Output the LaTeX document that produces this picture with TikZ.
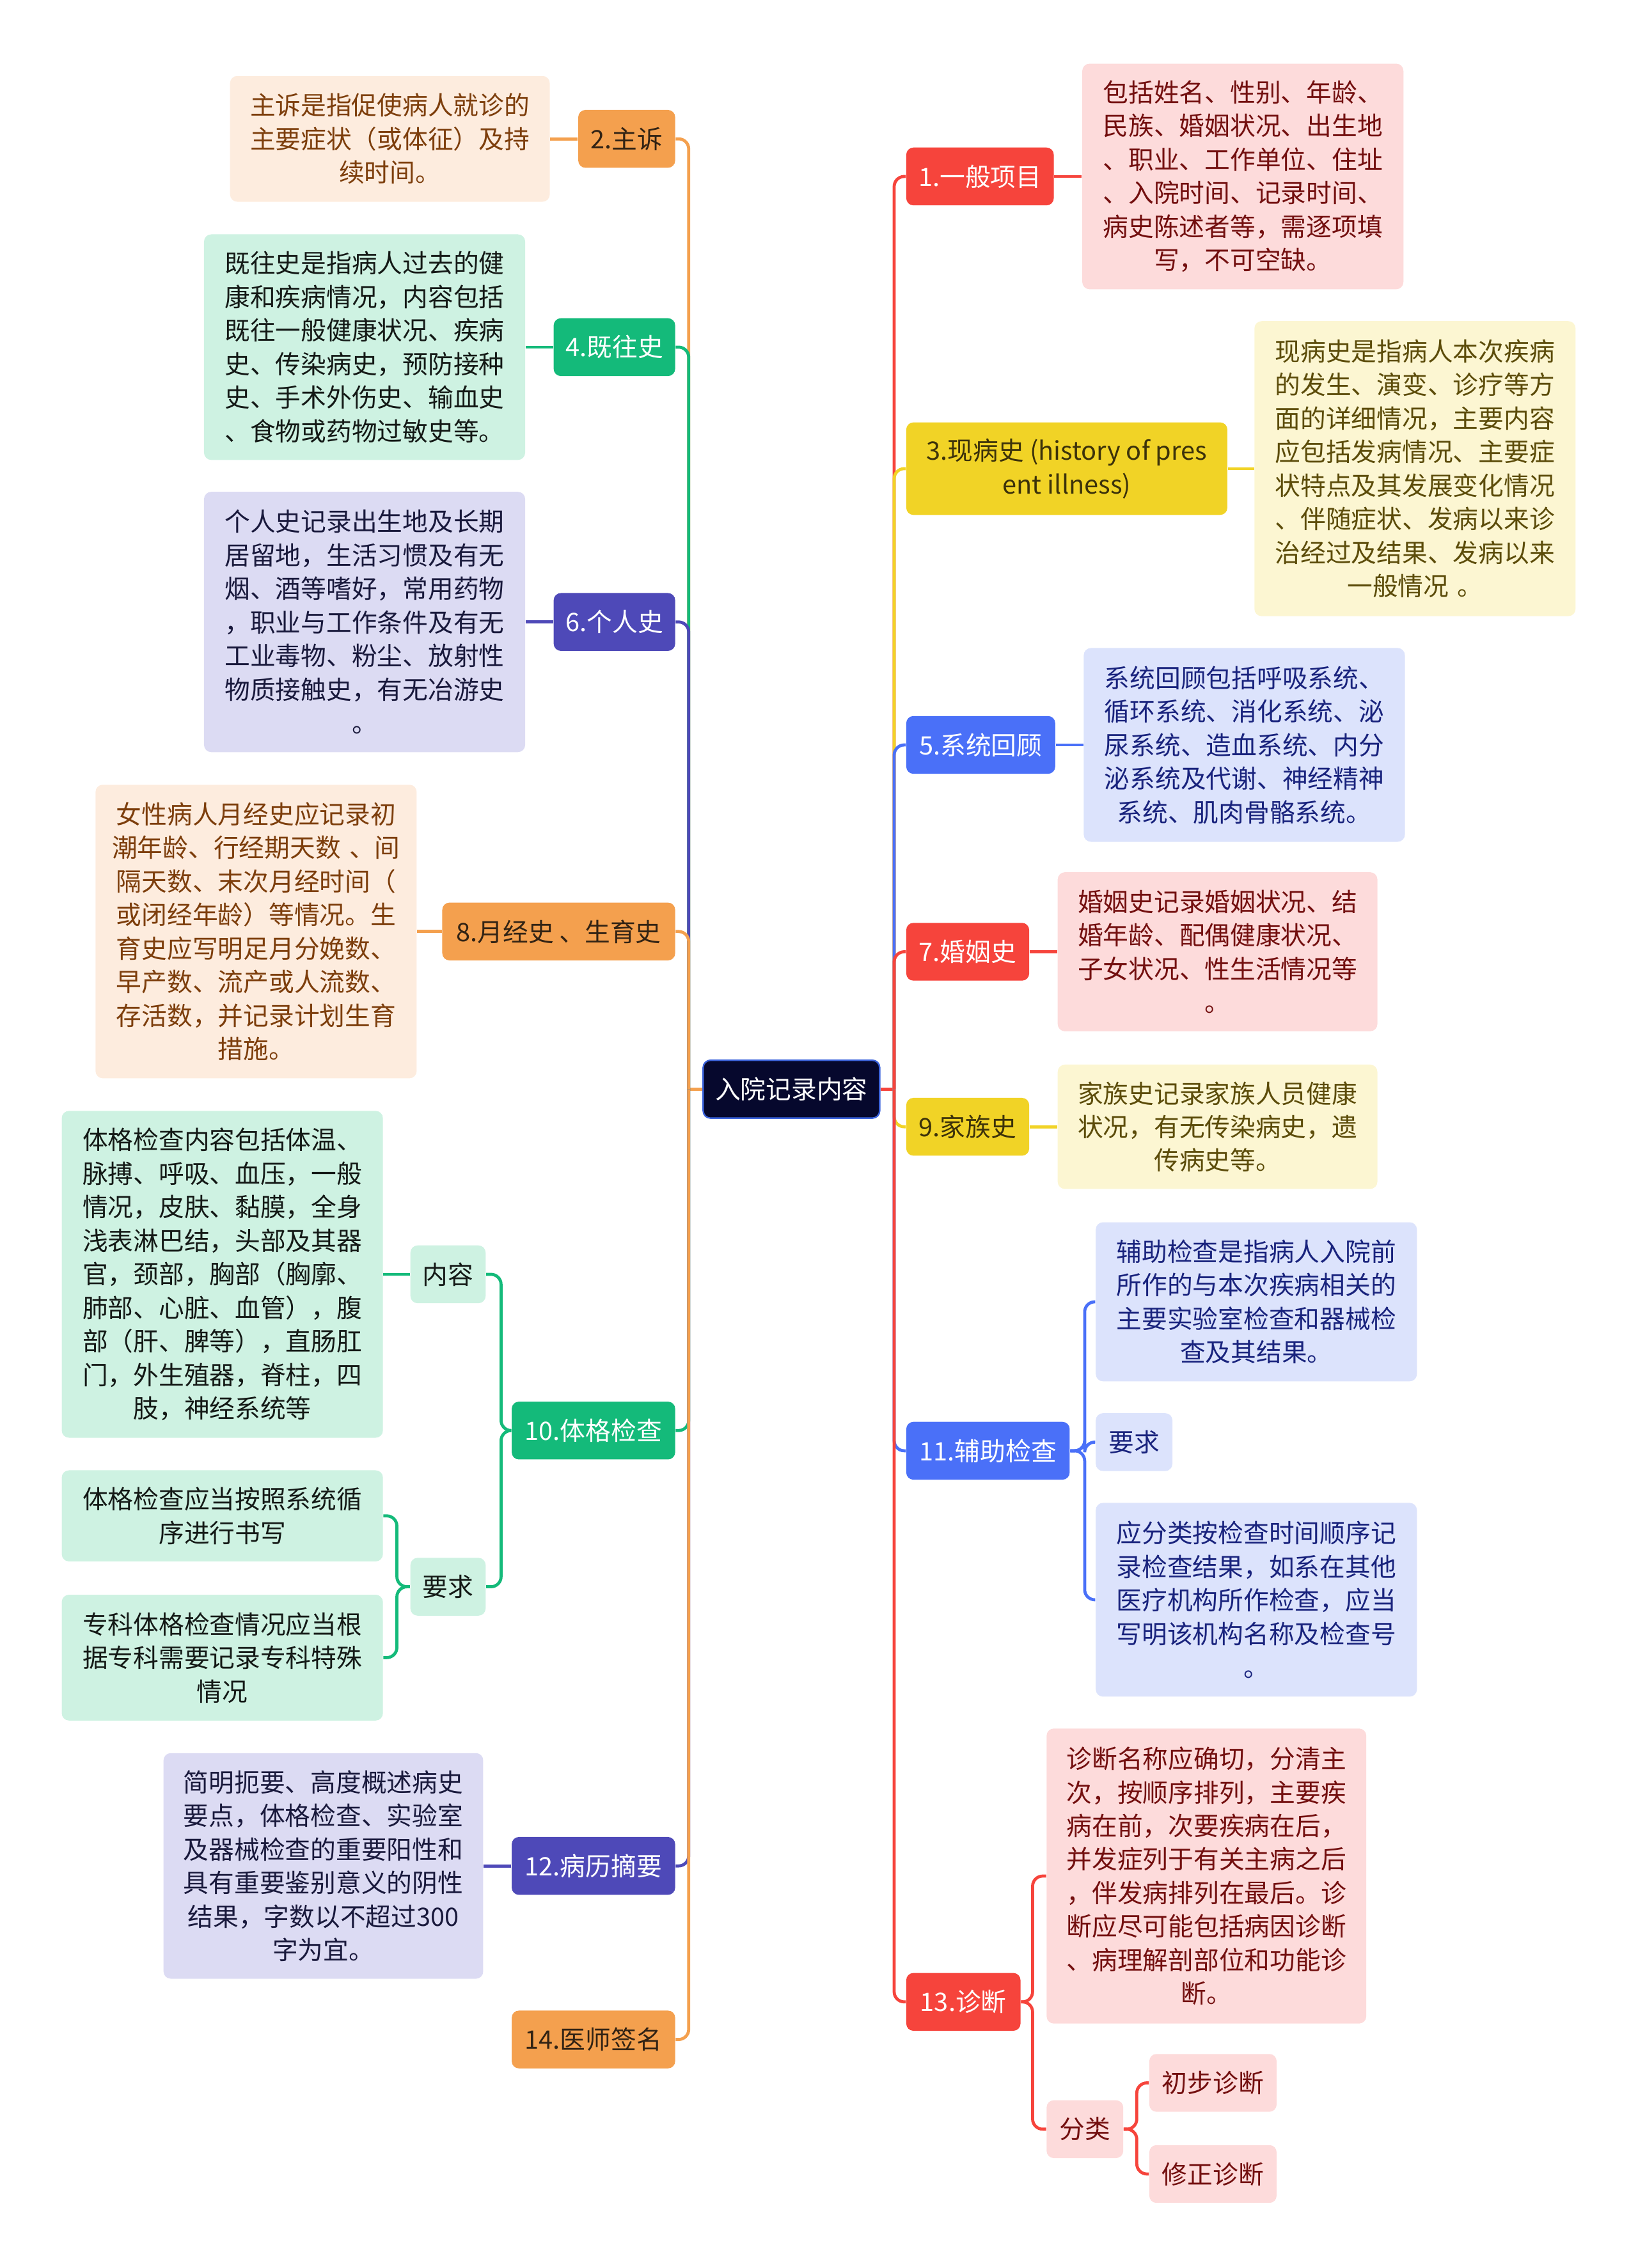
\documentclass[tikz,border=0pt]{standalone}
\usepackage{fontspec}
\setmainfont{Noto Sans CJK SC}
\usepackage{xcolor}
\usepackage{tikz}
\usetikzlibrary{positioning}
\definecolor{orMain}{RGB}{244,160,78}
\definecolor{orLight}{RGB}{253,236,222}
\definecolor{orText}{RGB}{125,62,12}
\definecolor{orDark}{RGB}{50,35,20}
\definecolor{grMain}{RGB}{20,186,122}
\definecolor{grLight}{RGB}{206,242,226}
\definecolor{grText}{RGB}{20,25,22}
\definecolor{puMain}{RGB}{78,73,184}
\definecolor{puLight}{RGB}{220,219,243}
\definecolor{puText}{RGB}{25,25,60}
\definecolor{reMain}{RGB}{246,68,60}
\definecolor{reLight}{RGB}{253,219,219}
\definecolor{reText}{RGB}{115,15,15}
\definecolor{yeMain}{RGB}{241,211,38}
\definecolor{yeLight}{RGB}{252,246,210}
\definecolor{yeText}{RGB}{92,76,10}
\definecolor{yeDark}{RGB}{60,50,10}
\definecolor{blMain}{RGB}{74,112,248}
\definecolor{blLight}{RGB}{220,227,252}
\definecolor{blText}{RGB}{25,35,125}
\definecolor{rootFill}{RGB}{6,8,45}
\definecolor{rootEdge}{RGB}{60,100,220}

\begin{document}
\begin{tikzpicture}[
    x=0.02cm, y=-0.02cm,
    node distance=0.38cm,
    every node/.style={font=\fontsize{10}{13.2}\selectfont},
    box/.style={rectangle, rounded corners=0.1cm, inner sep=0pt, minimum height=0.8cm, align=center},
    leaf/.style={rectangle, rounded corners=0.1cm, inner sep=0pt, align=center},
    link/.style={line width=1.2pt, rounded corners=0.14cm},
    root/.style={box, fill=rootFill, draw=rootEdge, line width=0.6pt, text=white},
    obox/.style={box, fill=orMain, text=orDark},
    oleaf/.style={leaf, fill=orLight, text=orText},
    olink/.style={link, draw=orMain},
    gbox/.style={box, fill=grMain, text=white},
    gleaf/.style={leaf, fill=grLight, text=grText},
    gsub/.style={gleaf, minimum height=0.8cm},
    glink/.style={link, draw=grMain},
    pbox/.style={box, fill=puMain, text=white},
    pleaf/.style={leaf, fill=puLight, text=puText},
    plink/.style={link, draw=puMain},
    rbox/.style={box, fill=reMain, text=white},
    rleaf/.style={leaf, fill=reLight, text=reText},
    rsub/.style={rleaf, minimum height=0.8cm},
    rlink/.style={link, draw=reMain},
    ybox/.style={box, fill=yeMain, text=yeDark},
    yleaf/.style={leaf, fill=yeLight, text=yeText},
    ylink/.style={link, draw=yeMain},
    bbox/.style={box, fill=blMain, text=white},
    bleaf/.style={leaf, fill=blLight, text=blText},
    bsub/.style={bleaf, minimum height=0.8cm},
    blink/.style={link, draw=blMain}
]
\useasboundingbox (0,0) rectangle (1132,1568);

% Root
\node[root, minimum width=2.44cm] (ryjl) at (547,753) {入院记录内容};

% Left side
\node[obox, anchor=east, minimum width=1.34cm] (zhusu) at (467,96) {2.主诉};
\node[oleaf, left=of zhusu, text width=4.42cm, minimum height=1.74cm] (zhusuT) {主诉是指促使病人就诊的\\主要症状（或体征）及持\\续时间。};

\node[gbox, anchor=east, minimum width=1.68cm] (jiwang) at (467,240) {4.既往史};
\node[gleaf, left=of jiwang, text width=4.44cm, minimum height=3.12cm] (jiwangT) {既往史是指病人过去的健\\康和疾病情况，内容包括\\既往一般健康状况、疾病\\史、传染病史，预防接种\\史、手术外伤史、输血史\\、食物或药物过敏史等。};

\node[pbox, anchor=east, minimum width=1.68cm] (geren) at (467,430) {6.个人史};
\node[pleaf, left=of geren, text width=4.44cm, minimum height=3.6cm] (gerenT) {个人史记录出生地及长期\\居留地，生活习惯及有无\\烟、酒等嗜好，常用药物\\，职业与工作条件及有无\\工业毒物、粉尘、放射性\\物质接触史，有无冶游史\\。};

\node[obox, anchor=east, minimum width=3.22cm] (yuejing) at (467,644) {8.月经史 、生育史};
\node[oleaf, left=0.34cm of yuejing, text width=4.44cm, minimum height=4.06cm] (yuejingT) {女性病人月经史应记录初\\潮年龄、行经期天数 、间\\隔天数、末次月经时间（\\或闭经年龄）等情况。生\\育史应写明足月分娩数、\\早产数、流产或人流数、\\存活数，并记录计划生育\\措施。};

\node[gbox, anchor=east, minimum width=2.26cm] (tige) at (467,989) {10.体格检查};
\node[gsub, anchor=east, minimum width=1.04cm] (tigeNR) at (336,881) {内容};
\node[gleaf, anchor=east, text width=4.44cm, minimum height=4.52cm] (tigeNRT) at (265,881) {体格检查内容包括体温、\\脉搏、呼吸、血压，一般\\情况，皮肤、黏膜，全身\\浅表淋巴结，头部及其器\\官，颈部，胸部（胸廓、\\肺部、心脏、血管），腹\\部（肝、脾等），直肠肛\\门，外生殖器，脊柱，四\\肢，神经系统等};
\node[gsub, anchor=east, minimum width=1.04cm] (tigeYQ) at (336,1097) {要求};
\node[gleaf, anchor=east, text width=4.44cm, minimum height=1.26cm] (tigeYQa) at (265,1048) {体格检查应当按照系统循\\序进行书写};
\node[gleaf, anchor=east, text width=4.44cm, minimum height=1.74cm] (tigeYQb) at (265,1146) {专科体格检查情况应当根\\据专科需要记录专科特殊\\情况};

\node[pbox, anchor=east, minimum width=2.26cm] (bingli) at (467,1290) {12.病历摘要};
\node[pleaf, left=of bingli, text width=4.42cm, minimum height=3.12cm] (bingliT) {简明扼要、高度概述病史\\要点，体格检查、实验室\\及器械检查的重要阳性和\\具有重要鉴别意义的阴性\\结果，字数以不超过300\\字为宜。};

\node[obox, anchor=east, minimum width=2.26cm] (qianming) at (467,1410) {14.医师签名};

% Right side
\node[rbox, anchor=west, minimum width=2.04cm] (yiban) at (626,122) {1.一般项目};
\node[rleaf, right=of yiban, text width=4.44cm, minimum height=3.12cm] (yibanT) {包括姓名、性别、年龄、\\民族、婚姻状况、出生地\\、职业、工作单位、住址\\、入院时间、记录时间、\\病史陈述者等，需逐项填\\写，不可空缺。};

\node[ybox, anchor=west, minimum width=4.44cm, minimum height=1.28cm] (xianbing) at (626,324) {3.现病史 (history of pres\\ent illness)};
\node[yleaf, right=0.36cm of xianbing, text width=4.44cm, minimum height=4.08cm] (xianbingT) {现病史是指病人本次疾病\\的发生、演变、诊疗等方\\面的详细情况，主要内容\\应包括发病情况、主要症\\状特点及其发展变化情况\\、伴随症状、发病以来诊\\治经过及结果、发病以来\\一般情况 。};

\node[bbox, anchor=west, minimum width=2.06cm] (xitong) at (626,515) {5.系统回顾};
\node[bleaf, right=of xitong, text width=4.44cm, minimum height=2.68cm] (xitongT) {系统回顾包括呼吸系统、\\循环系统、消化系统、泌\\尿系统、造血系统、内分\\泌系统及代谢、神经精神\\系统、肌肉骨骼系统。};

\node[rbox, anchor=west, minimum width=1.7cm] (hunyin) at (626,658) {7.婚姻史};
\node[rleaf, right=of hunyin, text width=4.42cm, minimum height=2.2cm] (hunyinT) {婚姻史记录婚姻状况、结\\婚年龄、配偶健康状况、\\子女状况、性生活情况等\\。};

\node[ybox, anchor=west, minimum width=1.7cm] (jiazu) at (626,779) {9.家族史};
\node[yleaf, right=of jiazu, text width=4.42cm, minimum height=1.72cm] (jiazuT) {家族史记录家族人员健康\\状况，有无传染病史，遗\\传病史等。};

\node[bbox, anchor=west, minimum width=2.26cm] (fuzhu) at (626,1003) {11.辅助检查};
\node[bleaf, anchor=west, text width=4.44cm, minimum height=2.2cm] (fuzhuA) at (757,900) {辅助检查是指病人入院前\\所作的与本次疾病相关的\\主要实验室检查和器械检\\查及其结果。};
\node[bsub, anchor=west, minimum width=1.06cm] (fuzhuYQ) at (757,997) {要求};
\node[bleaf, anchor=west, text width=4.44cm, minimum height=2.68cm] (fuzhuB) at (757,1106) {应分类按检查时间顺序记\\录检查结果，如系在其他\\医疗机构所作检查，应当\\写明该机构名称及检查号\\。};

\node[rbox, anchor=west, minimum width=1.58cm] (zhenduan) at (626,1384) {13.诊断};
\node[rleaf, anchor=west, text width=4.42cm, minimum height=4.08cm] (zhenduanT) at (723,1297) {诊断名称应确切，分清主\\次，按顺序排列，主要疾\\病在前，次要疾病在后，\\并发症列于有关主病之后\\，伴发病排列在最后。诊\\断应尽可能包括病因诊断\\、病理解剖部位和功能诊\\断。};
\node[rsub, anchor=west, minimum width=1.06cm] (fenlei) at (723,1472) {分类};
\node[rsub, anchor=west, minimum width=1.76cm] (chubu) at (794,1440) {初步诊断};
\node[rsub, anchor=west, minimum width=1.76cm] (xiuzheng) at (794,1503) {修正诊断};

% Trunks
\coordinate (lt) at (476,753);
\coordinate (rt) at (618,753);
\draw[olink] (ryjl.west) -- (lt);
\draw[rlink] (ryjl.east) -- (rt);

% Left branches
\draw[olink] (lt) |- (zhusu.east);
\draw[glink] (lt) |- (jiwang.east);
\draw[plink] (lt) |- (geren.east);
\draw[olink] (lt) |- (yuejing.east);
\draw[glink] (lt) |- (tige.east);
\draw[plink] (lt) |- (bingli.east);
\draw[olink] (lt) |- (qianming.east);

\draw[olink] (zhusu.west) -- (zhusuT.east);
\draw[glink] (jiwang.west) -- (jiwangT.east);
\draw[plink] (geren.west) -- (gerenT.east);
\draw[olink] (yuejing.west) -- (yuejingT.east);
\draw[plink] (bingli.west) -- (bingliT.east);

\draw[glink] (tige.west) -- ++(-7,0) |- (tigeNR.east);
\draw[glink] (tige.west) -- ++(-7,0) |- (tigeYQ.east);
\draw[glink] (tigeNR.west) -- (tigeNRT.east);
\draw[glink] (tigeYQ.west) -- ++(-9,0) |- (tigeYQa.east);
\draw[glink] (tigeYQ.west) -- ++(-9,0) |- (tigeYQb.east);

% Right branches
\draw[rlink] (rt) |- (yiban.west);
\draw[ylink] (rt) |- (xianbing.west);
\draw[blink] (rt) |- (xitong.west);
\draw[rlink] (rt) |- (hunyin.west);
\draw[ylink] (rt) |- (jiazu.west);
\draw[blink] (rt) |- (fuzhu.west);
\draw[rlink] (rt) |- (zhenduan.west);

\draw[rlink] (yiban.east) -- (yibanT.west);
\draw[ylink] (xianbing.east) -- (xianbingT.west);
\draw[blink] (xitong.east) -- (xitongT.west);
\draw[rlink] (hunyin.east) -- (hunyinT.west);
\draw[ylink] (jiazu.east) -- (jiazuT.west);

\draw[blink] (fuzhu.east) -- ++(10,0) |- (fuzhuA.west);
\draw[blink] (fuzhu.east) -- ++(10,0) |- (fuzhuYQ.west);
\draw[blink] (fuzhu.east) -- ++(10,0) |- (fuzhuB.west);

\draw[rlink] (zhenduan.east) -- ++(8,0) |- (zhenduanT.west);
\draw[rlink] (zhenduan.east) -- ++(8,0) |- (fenlei.west);
\draw[rlink] (fenlei.east) -- ++(9,0) |- (chubu.west);
\draw[rlink] (fenlei.east) -- ++(9,0) |- (xiuzheng.west);

\end{tikzpicture}
\end{document}
